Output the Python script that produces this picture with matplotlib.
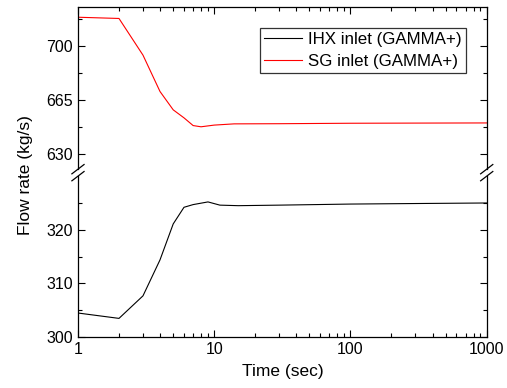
#!/usr/bin/env python3
# broken-axis flow rate plot (IHX / SG inlet, GAMMA+)
import matplotlib
matplotlib.use("Agg")
import matplotlib.pyplot as plt
from matplotlib.ticker import MultipleLocator, LogLocator, FixedLocator, FixedFormatter, NullFormatter

plt.rcParams["font.family"] = ["Liberation Sans", "DejaVu Sans"]
plt.rcParams["font.size"] = 11.5

# data
time_ihx = [1, 2, 3, 4, 5, 6, 7, 9, 11, 15, 30, 100, 300, 1000]
flow_ihx = [304.5, 303.5, 307.7, 314.4, 321.1, 324.2, 324.7, 325.2, 324.6, 324.5, 324.6, 324.8, 324.9, 325.0]

time_sg = [1, 2, 3, 4, 5, 6, 7, 8, 10, 14, 30, 100, 300, 1000]
flow_sg = [718.6, 717.8, 694.0, 670.4, 658.5, 653.3, 648.3, 647.5, 648.6, 649.4, 649.5, 649.8, 649.9, 650.0]

x_ticks = [1, 10, 100, 1000]
x_labels = ["1", "10", "100", "1000"]

fig = plt.figure(figsize=(5.07, 3.88), dpi=100)
left, right = 0.1538, 0.96
ax_top = fig.add_axes([left, 0.564, right - left, 0.417])
ax_bot = fig.add_axes([left, 0.131, right - left, 0.415])

for ax in (ax_top, ax_bot):
    ax.set_xscale("log")
    ax.set_xlim(1, 1000)
    ax.tick_params(which="both", direction="in", right=True, width=0.8)
    ax.tick_params(which="major", length=5)
    ax.tick_params(which="minor", length=3)
    ax.xaxis.set_major_locator(FixedLocator(x_ticks))
    ax.xaxis.set_major_formatter(FixedFormatter(x_labels))
    ax.xaxis.set_minor_locator(LogLocator(base=10, subs=range(2, 10)))
    ax.xaxis.set_minor_formatter(NullFormatter())
    for s in ax.spines.values():
        s.set_linewidth(0.9)

ax_top.plot(time_ihx, flow_ihx, color="black", lw=0.8, label="IHX inlet (GAMMA+)")
ax_top.plot(time_sg, flow_sg, color="red", lw=0.8, label="SG inlet (GAMMA+)")
ax_bot.plot(time_ihx, flow_ihx, color="black", lw=0.8)
ax_bot.plot(time_sg, flow_sg, color="red", lw=0.8)

ax_top.set_ylim(620, 725)
ax_top.yaxis.set_major_locator(FixedLocator([630, 665, 700]))
ax_top.yaxis.set_minor_locator(MultipleLocator(17.5))
ax_top.spines["bottom"].set_visible(False)
ax_top.tick_params(which="both", bottom=False, labelbottom=False, top=True)

ax_bot.set_ylim(300, 330)
ax_bot.yaxis.set_major_locator(FixedLocator([300, 310, 320]))
ax_bot.yaxis.set_minor_locator(FixedLocator([305, 315, 325]))
ax_bot.spines["top"].set_visible(False)
ax_bot.tick_params(which="both", top=False)
ax_bot.set_xlabel("Time (sec)", fontsize=12.5, labelpad=5)

fig.text(0.05, 0.55, "Flow rate (kg/s)", rotation=90, va="center", ha="center", fontsize=12.5)

# break marks
d = 0.012
kw = dict(transform=fig.transFigure, color="black", lw=0.9, clip_on=False)
for x in (left, right):
    for y in (0.564, 0.546):
        fig.add_artist(plt.Line2D([x - d, x + d], [y - 0.012, y + 0.012], **kw))

leg = ax_top.legend(loc="upper right", bbox_to_anchor=(0.949, 0.872), borderaxespad=0,
                    frameon=True, fancybox=False, edgecolor="black", handlelength=2.25,
                    borderpad=0.25, labelspacing=0.38, handletextpad=0.35, fontsize=12.2)
leg.get_frame().set_linewidth(0.9)

fig.savefig("out.png", dpi=100)
